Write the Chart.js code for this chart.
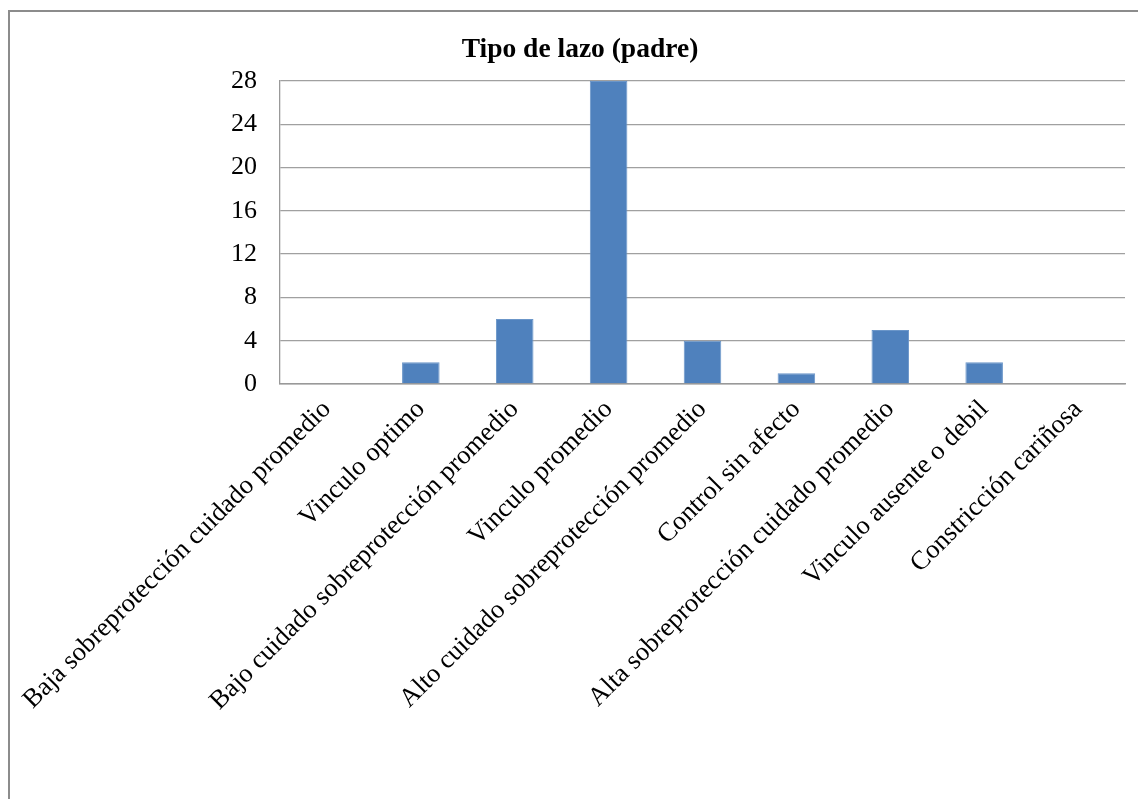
<!DOCTYPE html>
<html lang="es">
<head>
    <meta charset="UTF-8">
    <title>Tipo de lazo (padre)</title>
    <script src="https://cdn.jsdelivr.net/npm/chart.js"></script>
    <style>
        html, body {
            margin: 0;
            padding: 0;
            background: #fff;
            overflow: hidden;
        }
        .frame {
            position: absolute;
            left: 8px;
            top: 10px;
            width: 1140px;
            height: 800px;
            border: 2px solid #8c8c8c;
        }
        .frame canvas {
            display: block;
        }
    </style>
</head>
<body>
    <div class="frame">
        <canvas id="lazoChart" width="1140" height="800"></canvas>
    </div>
    <script>
        // Tipos de lazo y número de casos (padre)
        var categorias = [
            'Baja sobreprotección cuidado promedio',
            'Vinculo optimo',
            'Bajo cuidado sobreprotección promedio',
            'Vinculo promedio',
            'Alto cuidado sobreprotección promedio',
            'Control sin afecto',
            'Alta sobreprotección cuidado promedio',
            'Vinculo ausente o debil',
            'Constricción cariñosa'
        ];
        var casos = [0, 2, 6, 28, 4, 1, 5, 2, 0];
        var ticksY = [0, 4, 8, 12, 16, 20, 24, 28];

        var serif = "'Liberation Serif', 'Times New Roman', serif";

        var ctx = document.getElementById('lazoChart').getContext('2d');
        var lazoChart = new Chart(ctx, {
            type: 'bar',
            data: {
                labels: categorias,
                datasets: [{
                    label: 'Tipo de lazo (padre)',
                    data: casos,
                    yAxisID: 'y',
                    backgroundColor: '#4f81bd',
                    borderColor: '#6b96c9',
                    borderWidth: 1,
                    categoryPercentage: 1,
                    barPercentage: 0.4
                }]
            },
            options: {
                responsive: false,
                animation: false,
                plugins: {
                    legend: { display: false },
                    tooltip: { enabled: false },
                    title: {
                        display: true,
                        text: 'Tipo de lazo (padre)',
                        color: '#000',
                        font: { family: serif, size: 27.5, weight: 'bold' },
                        padding: { top: 21, bottom: 15 }
                    }
                },
                scales: {
                    x: {
                        grid: { display: false },
                        border: { display: true, color: '#999', width: 1.5 },
                        ticks: {
                            color: '#000',
                            font: { family: serif, size: 26.5 },
                            minRotation: 45,
                            maxRotation: 45,
                            autoSkip: false,
                            padding: 2
                        },
                        afterFit: function (scale) {
                            scale.height = 428;
                            // the long first label may hang into the left margin
                            scale.paddingLeft = 0;
                            scale.paddingRight = 0;
                        }
                    },
                    y: {
                        min: 0,
                        max: 28,
                        afterBuildTicks: function (scale) {
                            scale.ticks = ticksY.map(function (v) { return { value: v }; });
                        },
                        grid: { color: '#a0a0a0', lineWidth: 1.3, drawTicks: false },
                        border: { display: true, color: '#999', width: 1.3 },
                        ticks: {
                            color: '#000',
                            font: { family: serif, size: 26 },
                            padding: 23
                        },
                        afterFit: function (scale) {
                            scale.width = 270;
                        }
                    },
                    // empty strip on the right of the plot
                    margen: {
                        position: 'right',
                        grid: { display: false },
                        border: { display: false },
                        ticks: { display: false },
                        afterFit: function (scale) {
                            scale.width = 25;
                        }
                    }
                }
            }
        });
    </script>
</body>
</html>
